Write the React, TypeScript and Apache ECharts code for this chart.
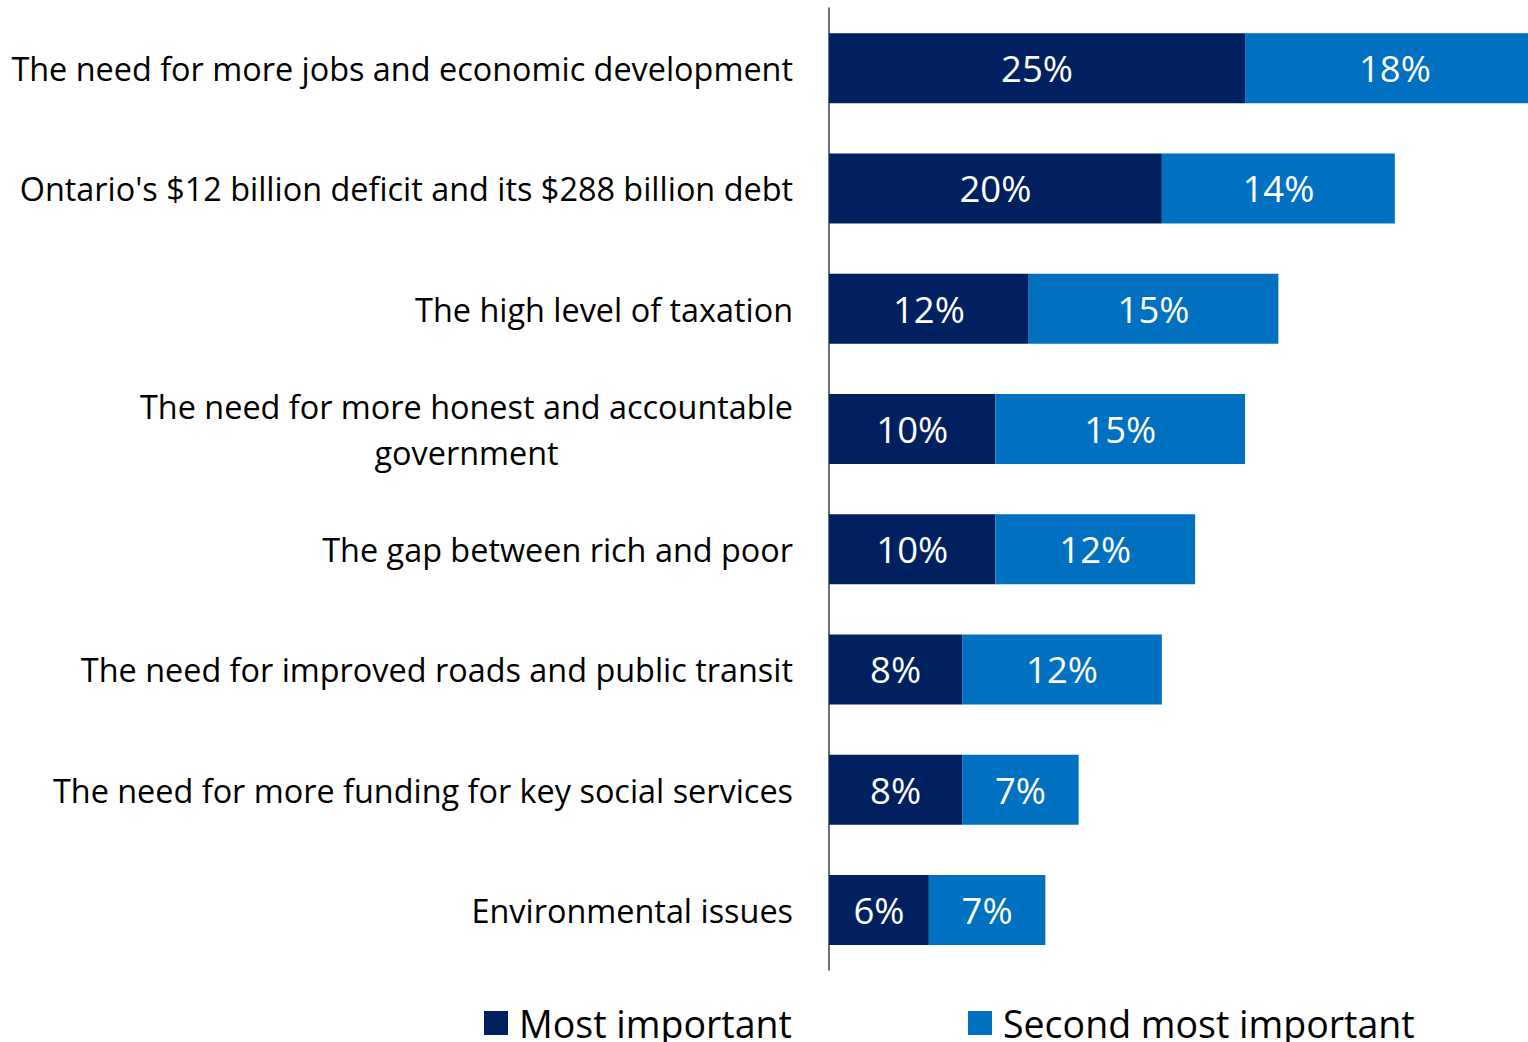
import React, { useEffect, useRef } from "react";
import * as echarts from "echarts";

const categories = [
  "The need for more jobs and economic development",
  "Ontario's $12 billion deficit and its $288 billion debt",
  "The high level of taxation",
  "The need for more honest and accountable\ngovernment",
  "The gap between rich and poor",
  "The need for improved roads and public transit",
  "The need for more funding for key social services",
  "Environmental issues",
];
const mostImportant = [25, 20, 12, 10, 10, 8, 8, 6];
const secondMostImportant = [18, 14, 15, 15, 12, 12, 7, 7];
const seriesNames = ["Most important", "Second most important"];

const FONT = "'Open Sans', sans-serif";

export default function App() {
  const ref = useRef<HTMLDivElement>(null);
  useEffect(() => {
    if (!ref.current) return;
    const chart = echarts.init(ref.current, null, { renderer: "svg" });
    const barLabel = {
      show: true,
      position: "inside",
      color: "#ffffff",
      fontSize: 36.5,
      fontFamily: FONT,
      formatter: (p: any) => `${p.value}%`,
    };
    const legendText = {
      fontSize: 37.5,
      fontFamily: FONT,
      color: "#000000",
      lineHeight: 40,
      padding: [0, 0, 0, 6],
    };
    chart.setOption({
      animation: false,
      grid: { left: 829, right: 0, top: 8, bottom: 72, containLabel: false },
      xAxis: {
        type: "value",
        min: 0,
        max: 42,
        show: false,
      },
      yAxis: {
        type: "category",
        data: categories,
        inverse: true,
        axisLine: { show: true, lineStyle: { color: "#404040", width: 1.5 } },
        axisTick: { show: false },
        axisLabel: {
          margin: 36,
          color: "#000000",
          fontSize: 32.4,
          fontFamily: FONT,
          formatter: (v: string) =>
            v
              .split("\n")
              .map((l) => `{a|${l}}`)
              .join("\n"),
          rich: {
            a: {
              align: "center",
              fontSize: 32.4,
              fontFamily: FONT,
              color: "#000000",
              lineHeight: 46,
            },
          },
        },
      },
      legend: [
        {
          data: [seriesNames[0]],
          left: 484,
          top: 1003,
          padding: 0,
          icon: "rect",
          itemWidth: 24,
          itemHeight: 24,
          textStyle: legendText,
        },
        {
          data: [seriesNames[1]],
          left: 968,
          top: 1003,
          padding: 0,
          icon: "rect",
          itemWidth: 24,
          itemHeight: 24,
          textStyle: legendText,
        },
      ],
      series: [
        {
          name: seriesNames[0],
          type: "bar",
          stack: "total",
          barWidth: 70,
          clip: false,
          data: mostImportant,
          itemStyle: { color: "#002060" },
          label: barLabel,
        },
        {
          name: seriesNames[1],
          type: "bar",
          stack: "total",
          barWidth: 70,
          clip: false,
          data: secondMostImportant,
          itemStyle: { color: "#0070C0" },
          label: barLabel,
        },
      ],
    });
    return () => chart.dispose();
  }, []);
  return (
    <div
      ref={ref}
      style={{ position: "absolute", left: 0, top: 0, width: 1528, height: 1042 }}
    />
  );
}
